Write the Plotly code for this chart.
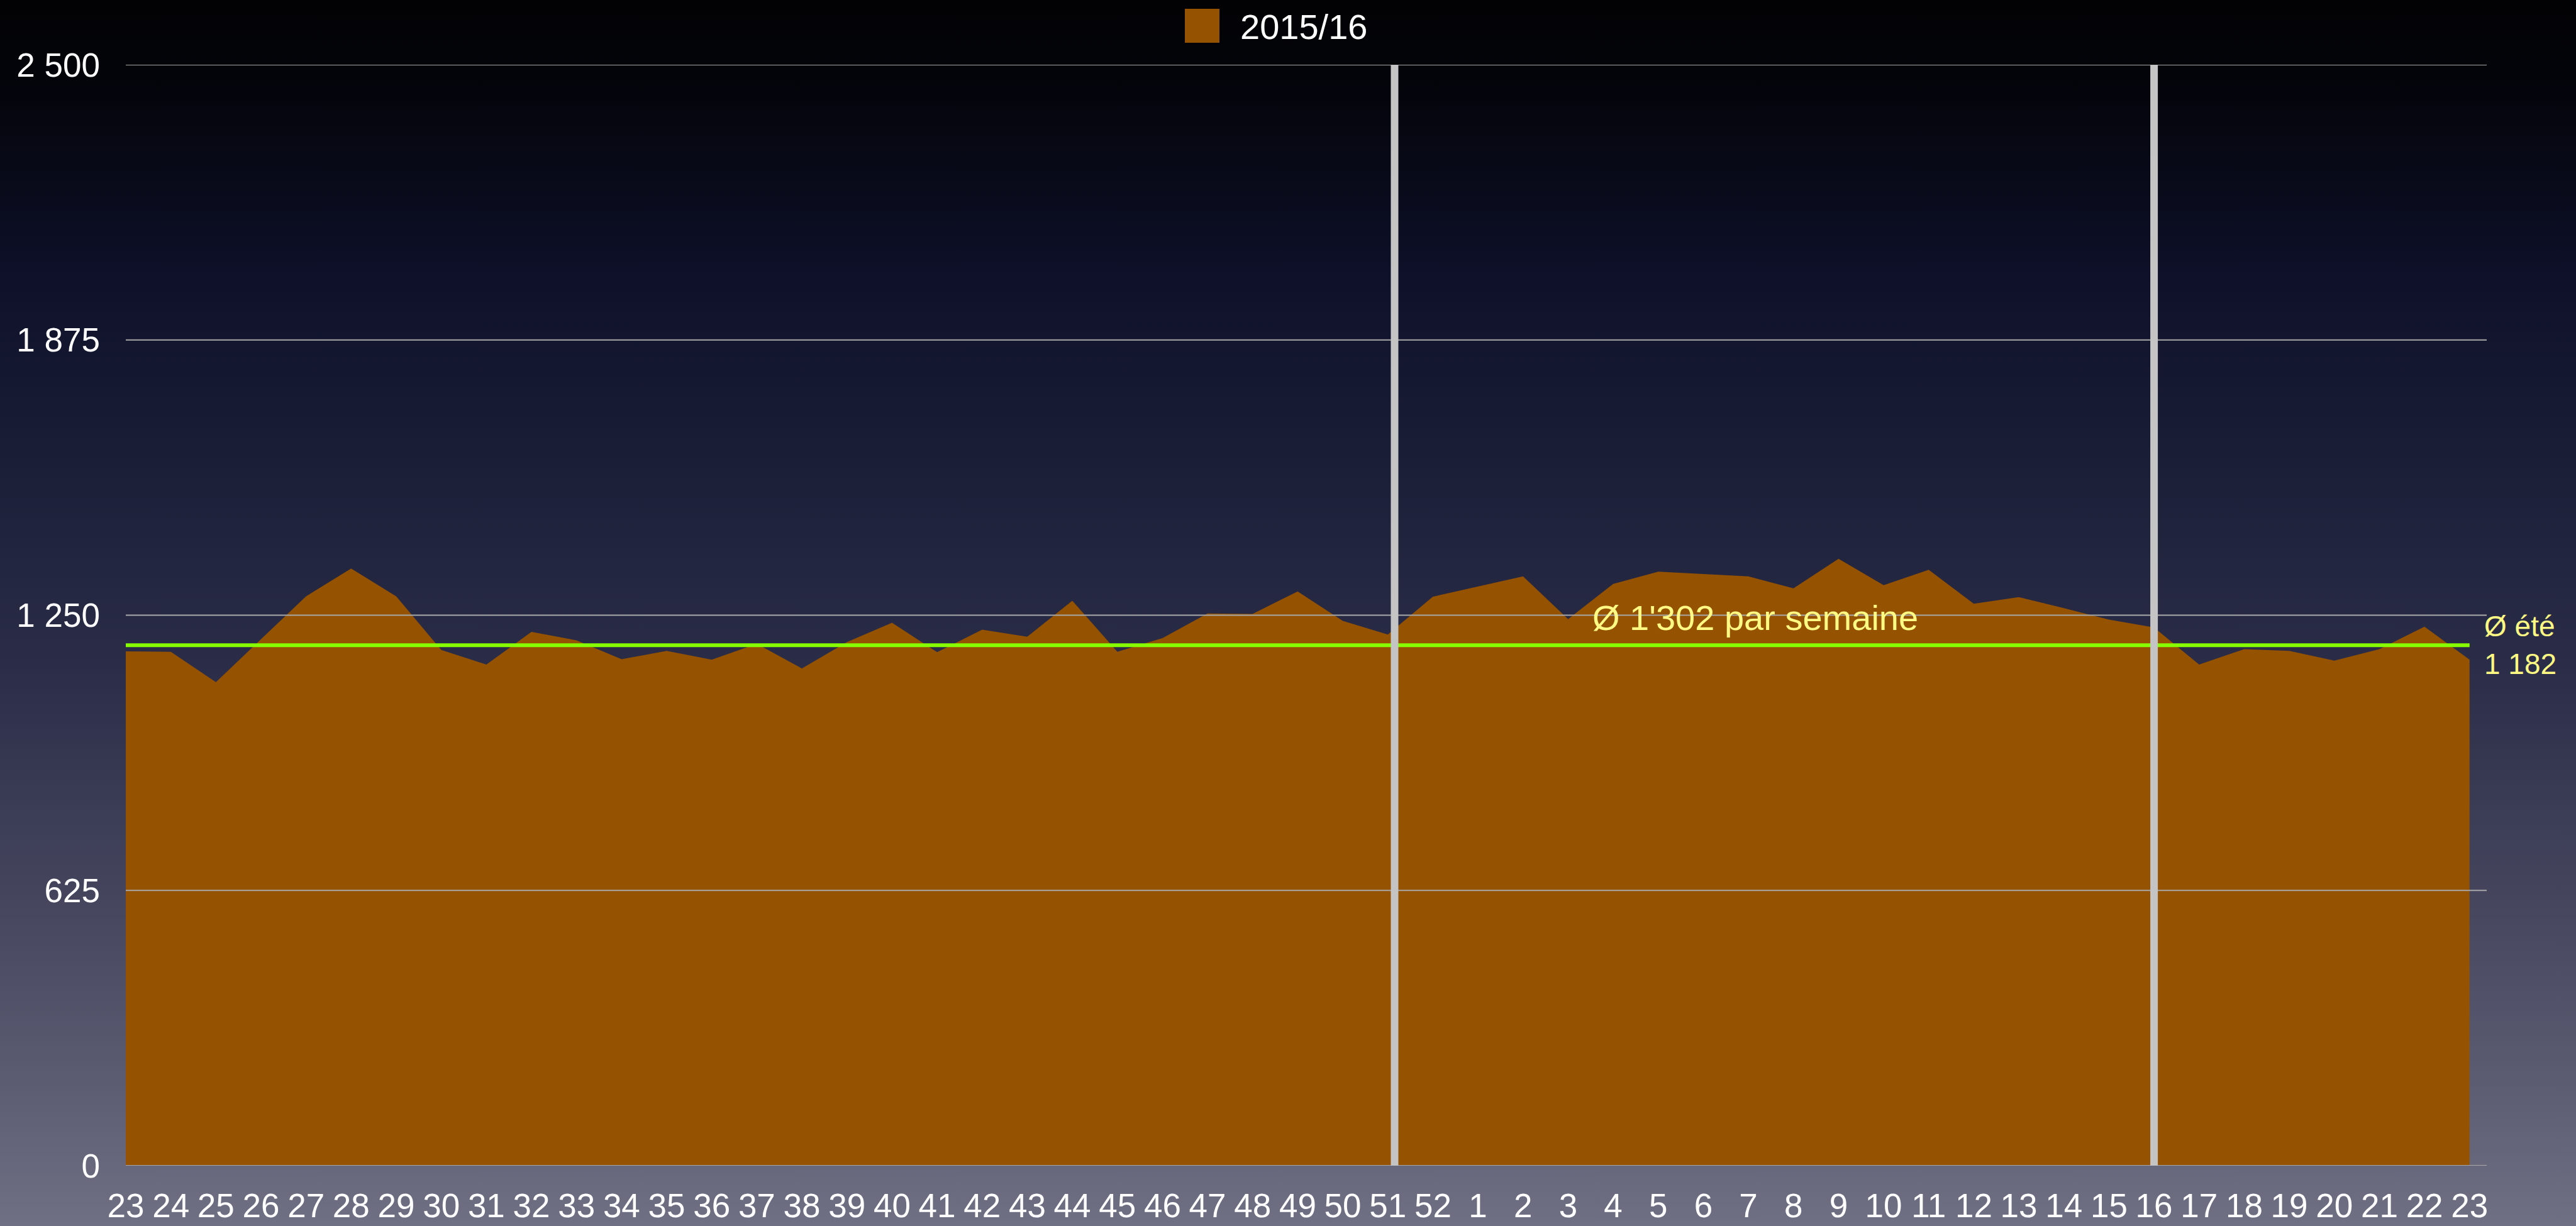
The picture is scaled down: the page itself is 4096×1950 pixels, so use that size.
import base64
import plotly.graph_objects as go

# Weekly counts, season 2015/16 (calendar week 23 to week 23)
weeks = [str(w) for w in range(23, 53)] + [str(w) for w in range(1, 24)]
visits = [
    1168, 1167, 1098, 1195, 1293, 1356, 1293, 1171, 1138, 1212,
    1193, 1150, 1169, 1149, 1185, 1129, 1189, 1233, 1166, 1217,
    1201, 1283, 1167, 1198, 1254, 1253, 1304, 1237, 1206, 1292,
    1315, 1338, 1241, 1321, 1349, 1343, 1338, 1311, 1378, 1318,
    1353, 1276, 1291, 1266, 1240, 1222, 1138, 1173, 1169, 1147,
    1173, 1224, 1149,
]
series_name = "2015/16"
summer_avg = 1182
summer_label = "Ø été<br>1 182"
week_avg_label = "Ø 1'302 par semaine"
season_break_weeks = ["51", "16"]

y_ticks = [0, 625, 1250, 1875, 2500]
y_tick_labels = ["0", "625", "1 250", "1 875", "2 500"]

W, H = 4096, 1950
ML, MR, MT, MB = 200, 142, 103, 96
PW, PH = W - ML - MR, H - MT - MB

FONT = "Liberation Sans, Arial, sans-serif"
FILL = "#955200"
YELLOW = "#fffa84"

x = list(range(len(weeks)))

# Vertical background gradient (black at the top to slate grey at the bottom)
svg = (
    '<svg xmlns="http://www.w3.org/2000/svg" width="100" height="100" preserveAspectRatio="none" viewBox="0 0 100 100">'
    '<defs><linearGradient id="g" x1="0" y1="0" x2="0" y2="1">'
    '<stop offset="0" stop-color="#020204"/>'
    '<stop offset="0.08" stop-color="#04050c"/>'
    '<stop offset="0.22" stop-color="#0d1028"/>'
    '<stop offset="0.40" stop-color="#1d2039"/>'
    '<stop offset="0.55" stop-color="#2c2e49"/>'
    '<stop offset="0.72" stop-color="#43445c"/>'
    '<stop offset="0.88" stop-color="#5b5c72"/>'
    '<stop offset="1" stop-color="#6f7083"/>'
    '</linearGradient></defs>'
    '<rect x="0" y="0" width="100" height="100" fill="url(#g)"/></svg>'
)
bg_src = "data:image/svg+xml;base64," + base64.b64encode(svg.encode()).decode()

fig = go.Figure()

fig.add_trace(go.Scatter(
    x=x, y=visits, mode="lines", fill="tozeroy",
    fillcolor=FILL, line=dict(color=FILL, width=0),
    name=series_name, showlegend=False, hoverinfo="skip",
))

fig.add_trace(go.Scatter(
    x=[x[0], x[-1]], y=[summer_avg, summer_avg], mode="lines",
    line=dict(color="#88ff00", width=6),
    showlegend=False, hoverinfo="skip",
))

shapes = []
# Horizontal grid drawn over the area
for v in y_ticks:
    shapes.append(dict(
        type="line", xref="paper", yref="y", x0=0, x1=1, y0=v, y1=v,
        line=dict(color="#a8a8a8", width=2), layer="above",
    ))
# Season separators
for i, wk in enumerate(season_break_weeks):
    pos = weeks.index(wk) + (0.15 if i == 0 else 0.0)
    shapes.append(dict(
        type="line", xref="x", yref="y", x0=pos, x1=pos, y0=0, y1=y_ticks[-1],
        line=dict(color="#c4c4c4", width=12), layer="above",
    ))

# Legend swatch
sw_x0 = (1884 - ML) / PW
sw_x1 = (1939 - ML) / PW
sw_y0 = 1 + (MT - 68) / PH
sw_y1 = 1 + (MT - 14) / PH
shapes.append(dict(
    type="rect", xref="paper", yref="paper", x0=sw_x0, x1=sw_x1, y0=sw_y0, y1=sw_y1,
    fillcolor=FILL, line=dict(width=0),
))

annotations = [
    dict(
        xref="paper", yref="paper", x=(1970 - ML) / PW, y=1 + (MT - 42) / PH,
        xanchor="left", yanchor="middle", text=series_name, showarrow=False,
        font=dict(family=FONT, size=56, color="#ffffff"),
    ),
    dict(
        xref="x", yref="y", x=36.15, y=1245, xanchor="center", yanchor="middle",
        text=week_avg_label, showarrow=False,
        font=dict(family=FONT, size=56, color=YELLOW),
    ),
    dict(
        xref="x", yref="y", x=52.3, y=summer_avg, xanchor="left", yanchor="middle",
        text=summer_label, showarrow=False, align="left",
        font=dict(family=FONT, size=46, color=YELLOW),
    ),
]

fig.update_layout(
    width=W, height=H,
    margin=dict(l=ML, r=MR, t=MT, b=MB, pad=0),
    paper_bgcolor="#000000", plot_bgcolor="rgba(0,0,0,0)",
    showlegend=False,
    shapes=shapes,
    annotations=annotations,
    images=[dict(
        source=bg_src, xref="paper", yref="paper",
        x=-ML / PW, y=1 + MT / PH, sizex=W / PW, sizey=H / PH,
        xanchor="left", yanchor="top", sizing="stretch", layer="below",
    )],
    font=dict(family=FONT, color="#ffffff"),
)

fig.update_xaxes(
    range=[0, 52.38], tickmode="array", tickvals=x, ticktext=weeks,
    showgrid=False, zeroline=False, showline=False, ticks="",
    tickfont=dict(family=FONT, size=53, color="#ffffff"),
    ticklabelstandoff=28, automargin=False, fixedrange=True,
)
fig.update_yaxes(
    range=[0, 2500], tickmode="array", tickvals=y_ticks, ticktext=y_tick_labels,
    showgrid=False, zeroline=False, showline=False, ticks="",
    tickfont=dict(family=FONT, size=53, color="#ffffff"),
    ticklabelstandoff=40, automargin=False, fixedrange=True,
)

fig.write_html("out.html", config={"displayModeBar": False})
